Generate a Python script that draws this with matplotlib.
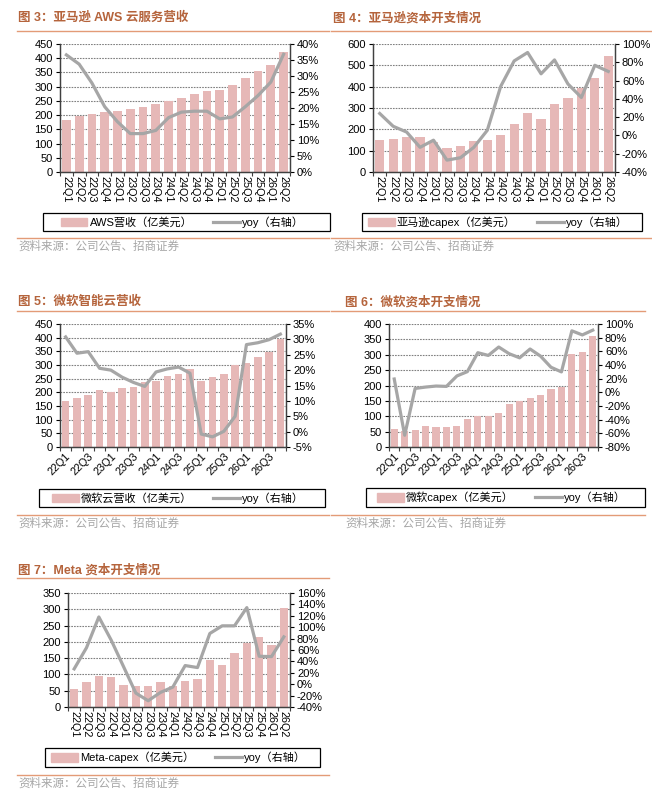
import matplotlib
matplotlib.use("Agg")
import numpy as np
import matplotlib.pyplot as plt
from matplotlib.patches import Rectangle
from matplotlib.lines import Line2D
from matplotlib.ticker import FuncFormatter

plt.rcParams["font.family"] = ["Liberation Sans", "Noto Sans CJK SC"]

W, H = 652, 797
BAR_COLOR = "#E6B8B7"
LINE_COLOR = "#A6A6A6"
TITLE_COLOR = "#B5643C"
RULE_COLOR = "#E39B77"
SOURCE = "资料来源：公司公告、招商证券"

# ---- data -------------------------------------------------------------
q18 = ["22Q1", "22Q2", "22Q3", "22Q4", "23Q1", "23Q2", "23Q3", "23Q4", "24Q1",
       "24Q2", "24Q3", "24Q4", "25Q1", "25Q2", "25Q3", "25Q4", "26Q1", "26Q2"]
q20 = q18 + ["26Q3", "26Q4"]

aws_rev = [182, 196, 204, 212, 213, 220, 229, 240, 249, 261, 274, 286, 290, 307,
           329, 355, 375, 421]
aws_yoy = [36.6, 33.7, 27.8, 20.4, 15.7, 12.0, 12.0, 13.0, 17.0, 18.7, 19.0, 19.0,
           16.6, 17.2, 20.4, 23.9, 28.1, 36.8]

amzn_capex = [148, 154, 162, 163, 141, 111, 122, 143, 148, 175, 224, 276, 248, 321,
              349, 394, 441, 543]
amzn_yoy = [24, 10, 3.7, -13, -5.2, -27, -24.4, -13, 5.6, 53.7, 81.5, 90.7, 67.4,
            82.6, 56.3, 41.5, 76.7, 70]

msft_cloud = [169, 181, 189, 207, 202, 215, 220, 238, 242, 258, 267, 285, 241, 256,
              267, 299, 309, 329, 346, 395]
msft_cloud_yoy = [30.8, 25.5, 26.0, 20.6, 20.0, 17.7, 16.0, 14.7, 19.4, 20.4, 21.0,
                  19.0, -0.8, -1.7, 0.1, 5.0, 28.3, 28.9, 29.9, 31.7]

msft_capex = [59, 52, 55, 69, 64, 64, 67, 90, 101, 101, 111, 140, 150, 159, 170,
              190, 195, 302, 310, 361]
msft_capex_yoy = [19.5, -62.8, 5.7, 7.7, 9.2, 8.7, 24, 30.3, 58, 54, 66.3, 56.5,
                  50.5, 63.4, 53, 36.7, 29.9, 90, 84, 91]

meta_capex = [55, 76, 96, 92, 69, 63, 66, 77, 65, 81, 85, 145, 130, 166, 196, 215,
              190, 303]
meta_yoy = [26.9, 64, 118, 77.4, 31, -15.6, -29, -14.4, -5, 32.7, 29.2, 89, 102.4,
            102.4, 134.4, 49, 48.4, 83]


def fx(x):
    return x / W


def fy(y):
    return 1 - y / H


def px_rect(l, t, r, b):
    return [l / W, 1 - b / H, (r - l) / W, (b - t) / H]


def hline(fig, y, x0, x1):
    fig.add_artist(Line2D([fx(x0), fx(x1)], [fy(y), fy(y)], color=RULE_COLOR,
                          lw=1.0, transform=fig.transFigure))


def panel(fig, title, title_xy, rule, box, labels, bars, yoy, left_lim, left_step,
          right_lim, right_step, bar_label, rot, legend_box, source_y, every=1):
    tx, ty = title_xy
    fig.text(fx(tx), fy(ty), title, fontsize=9, weight="bold", color=TITLE_COLOR,
             va="center", ha="left")
    hline(fig, rule[0], rule[1], rule[2])

    ax = fig.add_axes(px_rect(*box))
    n = len(labels)
    x = np.arange(n)
    ax.bar(x, bars, width=0.68, color=BAR_COLOR, zorder=2)
    ax.set_xlim(-0.5, n - 0.5)
    ax.set_ylim(*left_lim)
    ax.set_yticks(np.arange(left_lim[0], left_lim[1] + 0.1, left_step))
    ax.yaxis.grid(True, linestyle=(0, (1.5, 1.0)), color="#808080", lw=0.8)
    ax.set_axisbelow(True)
    ax.spines["top"].set_visible(False)
    for s in ("left", "bottom", "right"):
        ax.spines[s].set_color("#404040")
        ax.spines[s].set_linewidth(0.9)
    ax.tick_params(axis="y", labelsize=8, length=3, width=0.8, pad=2)

    ax.set_xticks(x[::every])
    if rot == 270:
        ax.set_xticklabels(labels[::every], rotation=270, fontsize=7.8,
                           ha="center", va="top")
    else:
        ax.set_xticklabels(labels[::every], rotation=45, fontsize=7.8,
                           ha="right", va="top", rotation_mode="anchor")
    ax.tick_params(axis="x", which="major", length=0, pad=3)
    ax.set_xticks(np.arange(-0.5, n, 1.0), minor=True)
    ax.tick_params(axis="x", which="minor", length=3, width=0.8, color="#404040")

    ax2 = ax.twinx()
    ax2.plot(x, yoy, color=LINE_COLOR, lw=2.3, zorder=3)
    ax2.set_ylim(*right_lim)
    ax2.set_yticks(np.arange(right_lim[0], right_lim[1] + 0.1, right_step))
    ax2.yaxis.set_major_formatter(FuncFormatter(lambda v, p: f"{v:.0f}%"))
    ax2.tick_params(axis="y", labelsize=8, length=3, width=0.8, pad=2)
    ax2.spines["top"].set_visible(False)
    for s in ("left", "bottom", "right"):
        ax2.spines[s].set_color("#404040")
        ax2.spines[s].set_linewidth(0.9)

    # legend box
    l, t, r, b = legend_box
    fig.add_artist(Rectangle((fx(l), fy(b)), fx(r - l), (b - t) / H, fill=False,
                             edgecolor="black", lw=0.9,
                             transform=fig.transFigure))
    handles = [Rectangle((0, 0), 1, 1, color=BAR_COLOR),
               Line2D([0], [0], color=LINE_COLOR, lw=2.3)]
    fig.legend(handles, [bar_label, "yoy（右轴）"], loc="center",
               bbox_to_anchor=(fx((l + r) / 2 - 4), fy((t + b) / 2)),
               ncol=2, frameon=False, fontsize=8, handlelength=2.4,
               handleheight=0.8, handletextpad=0.2, columnspacing=1.9,
               borderpad=0, borderaxespad=0)

    hline(fig, source_y - 9, rule[1], rule[2])
    fig.text(fx(tx), fy(source_y), SOURCE, fontsize=8.3, color="#A6A6A6",
             va="center", ha="left")
    return ax


fig = plt.figure(figsize=(W / 100, H / 100), dpi=100)
fig.patch.set_facecolor("white")

panel(fig, "图 3：亚马逊 AWS 云服务营收", (18, 18), (31, 17, 329), (60, 44, 290, 172),
      q18, aws_rev, aws_yoy, (0, 450), 50, (0, 40), 5, "AWS营收（亿美元）", 270,
      (43, 213, 330, 231), 247)

panel(fig, "图 4：亚马逊资本开支情况", (333, 18), (31, 331, 651), (373, 44, 615, 172),
      q18, amzn_capex, amzn_yoy, (0, 600), 100, (-40, 100), 20,
      "亚马逊capex（亿美元）", 270, (362, 213, 642, 231), 247)

panel(fig, "图 5：微软智能云营收", (18, 302), (311, 17, 329), (60, 324, 286, 447),
      q20, msft_cloud, msft_cloud_yoy, (0, 450), 50, (-5, 35), 5,
      "微软云营收（亿美元）", 45, (39, 489, 325, 507), 524, every=2)

panel(fig, "图 6：微软资本开支情况", (345, 302), (311, 331, 645), (389, 324, 598, 447),
      q20, msft_capex, msft_capex_yoy, (0, 400), 50, (-80, 100), 20,
      "微软capex（亿美元）", 45, (366, 488, 645, 507), 524, every=2)

panel(fig, "图 7：Meta 资本开支情况", (18, 570), (578, 17, 329), (68, 593, 290, 707),
      q18, meta_capex, meta_yoy, (0, 350), 50, (-40, 160), 20,
      "Meta-capex（亿美元）", 270, (45, 748, 320, 767), 784)

fig.savefig("out.png", dpi=100)
